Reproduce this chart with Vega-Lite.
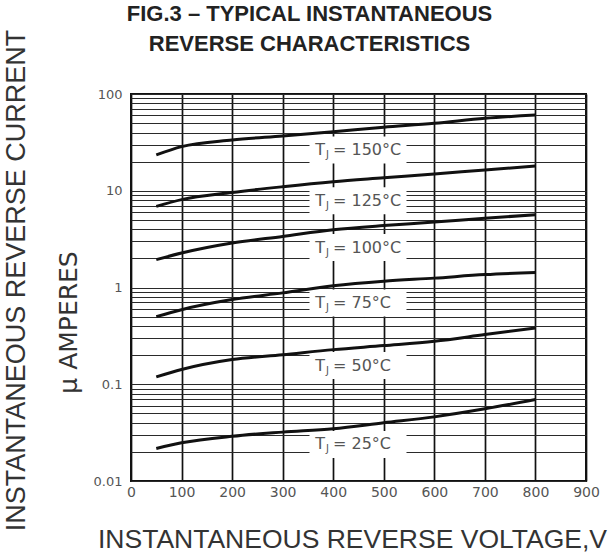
{
  "$schema": "https://vega.github.io/schema/vega-lite/v6.json",
  "width": 455,
  "height": 387,
  "autosize": {"type": "none"},
  "padding": {"left": 131, "top": 94, "right": 28, "bottom": 76},
  "background": "white",
  "config": {"view": {"stroke": "#111", "strokeWidth": 2}, "font": "Liberation Sans"},
  "datasets": {
    "curves": [
      {"t": "150", "v": 50, "i": 23.5}, {"t": "150", "v": 100, "i": 28.6}, {"t": "150", "v": 200, "i": 33.5}, {"t": "150", "v": 300, "i": 36.9}, {"t": "150", "v": 400, "i": 40.8}, {"t": "150", "v": 500, "i": 45.3}, {"t": "150", "v": 600, "i": 49.8}, {"t": "150", "v": 700, "i": 56.1}, {"t": "150", "v": 800, "i": 60.7},
      {"t": "125", "v": 50, "i": 6.9}, {"t": "125", "v": 100, "i": 8.1}, {"t": "125", "v": 200, "i": 9.6}, {"t": "125", "v": 300, "i": 11.0}, {"t": "125", "v": 400, "i": 12.4}, {"t": "125", "v": 500, "i": 13.6}, {"t": "125", "v": 600, "i": 14.9}, {"t": "125", "v": 700, "i": 16.4}, {"t": "125", "v": 800, "i": 18.0},
      {"t": "100", "v": 50, "i": 1.94}, {"t": "100", "v": 100, "i": 2.27}, {"t": "100", "v": 200, "i": 2.88}, {"t": "100", "v": 300, "i": 3.37}, {"t": "100", "v": 400, "i": 3.95}, {"t": "100", "v": 500, "i": 4.37}, {"t": "100", "v": 600, "i": 4.74}, {"t": "100", "v": 700, "i": 5.21}, {"t": "100", "v": 800, "i": 5.64},
      {"t": "75", "v": 50, "i": 0.5}, {"t": "75", "v": 100, "i": 0.59}, {"t": "75", "v": 200, "i": 0.75}, {"t": "75", "v": 300, "i": 0.88}, {"t": "75", "v": 400, "i": 1.04}, {"t": "75", "v": 500, "i": 1.16}, {"t": "75", "v": 600, "i": 1.25}, {"t": "75", "v": 700, "i": 1.36}, {"t": "75", "v": 800, "i": 1.43},
      {"t": "50", "v": 50, "i": 0.119}, {"t": "50", "v": 100, "i": 0.142}, {"t": "50", "v": 200, "i": 0.18}, {"t": "50", "v": 300, "i": 0.202}, {"t": "50", "v": 400, "i": 0.228}, {"t": "50", "v": 500, "i": 0.251}, {"t": "50", "v": 600, "i": 0.278}, {"t": "50", "v": 700, "i": 0.326}, {"t": "50", "v": 800, "i": 0.382},
      {"t": "25", "v": 50, "i": 0.0217}, {"t": "25", "v": 100, "i": 0.0248}, {"t": "25", "v": 200, "i": 0.029}, {"t": "25", "v": 300, "i": 0.032}, {"t": "25", "v": 400, "i": 0.0347}, {"t": "25", "v": 500, "i": 0.04}, {"t": "25", "v": 600, "i": 0.046}, {"t": "25", "v": 700, "i": 0.0557}, {"t": "25", "v": 800, "i": 0.0695}
    ],
    "labels": [
      {"t": "150", "v": 449, "i": 26.4, "s": "= 150°C"},
      {"t": "125", "v": 449, "i": 7.87, "s": "= 125°C"},
      {"t": "100", "v": 449, "i": 2.59, "s": "= 100°C"},
      {"t": "75", "v": 449, "i": 0.69, "s": "= 75°C"},
      {"t": "50", "v": 449, "i": 0.156, "s": "= 50°C"},
      {"t": "25", "v": 449, "i": 0.0239, "s": "= 25°C"}
    ]
  },
  "resolve": {"axis": {"x": "independent", "y": "independent"}},
  "layer": [
    {
      "data": {"name": "labels"},
      "mark": {"type": "rect", "color": "white", "width": 97, "height": 27},
      "encoding": {
        "x": {
          "field": "v", "type": "quantitative",
          "scale": {"domain": [0, 900], "nice": false, "zero": false},
          "axis": {
            "values": [0, 100, 200, 300, 400, 500, 600, 700, 800, 900],
            "grid": true, "gridColor": "#111", "gridWidth": 1.7,
            "ticks": false, "domain": false,
            "labelPadding": 4, "labelFontSize": 14, "labelColor": "#555", "labelFont": "DejaVu Sans",
            "labelFlush": false, "labelOverlap": false,
            "title": "INSTANTANEOUS REVERSE VOLTAGE,V",
            "titleFont": "Liberation Sans", "titleFontSize": 26.5, "titleFontWeight": "normal", "titleColor": "#333",
            "titleX": 221, "titleY": 58, "titleBaseline": "middle", "titleAlign": "center"
          }
        },
        "y": {
          "field": "i", "type": "quantitative",
          "scale": {"type": "log", "domain": [0.01, 100], "nice": false},
          "axis": {
            "values": [0.01, 0.02, 0.03, 0.04, 0.05, 0.06, 0.07, 0.08, 0.09, 0.1, 0.2, 0.3, 0.4, 0.5, 0.6, 0.7, 0.8, 0.9, 1, 2, 3, 4, 5, 6, 7, 8, 9, 10, 20, 30, 40, 50, 60, 70, 80, 90, 100],
            "labelExpr": "indexof([0.01, 0.1, 1, 10, 100], datum.value) >= 0 ? format(datum.value, '~g') : ''",
            "grid": true, "gridColor": "#2a2a2a", "gridWidth": 1.2,
            "ticks": false, "domain": false,
            "labelPadding": 9, "labelFontSize": 13, "labelColor": "#555", "labelFont": "DejaVu Sans",
            "labelFlush": false, "labelOverlap": false,
            "title": "μ AMPERES",
            "titleFont": "DejaVu Sans", "titleFontSize": 25, "titleFontWeight": "normal", "titleColor": "#333",
            "titleX": -63, "titleY": 228, "titleBaseline": "middle", "titleAlign": "center", "titleAngle": -90
          }
        }
      }
    },
    {
      "data": {"name": "curves"},
      "mark": {"type": "line", "color": "#111", "strokeWidth": 3, "interpolate": "monotone"},
      "encoding": {
        "x": {
          "field": "v", "type": "quantitative",
          "axis": {
            "orient": "top",
            "labels": false, "ticks": false, "domain": false, "grid": false,
            "title": ["FIG.3 – TYPICAL INSTANTANEOUS", "REVERSE CHARACTERISTICS"],
            "titleFont": "Liberation Sans", "titleFontSize": 22, "titleFontWeight": "bold", "titleColor": "#222",
            "titleLineHeight": 30,
            "titleX": 178, "titleY": -81, "titleBaseline": "middle", "titleAlign": "center"
          }
        },
        "y": {
          "field": "i", "type": "quantitative",
          "axis": {
            "orient": "left",
            "labels": false, "ticks": false, "domain": false, "grid": false,
            "title": "INSTANTANEOUS REVERSE CURRENT",
            "titleFont": "Liberation Sans", "titleFontSize": 27, "titleFontWeight": "normal", "titleColor": "#333",
            "titleX": -115, "titleY": 186, "titleBaseline": "middle", "titleAlign": "center", "titleAngle": -90
          }
        },
        "detail": {"field": "t"}
      }
    },
    {
      "data": {"name": "labels"},
      "mark": {"type": "text", "text": "T", "align": "right", "baseline": "middle", "dx": -33, "fontSize": 16, "color": "#555", "font": "DejaVu Sans"},
      "encoding": {
        "x": {"field": "v", "type": "quantitative", "axis": null},
        "y": {"field": "i", "type": "quantitative", "axis": null}
      }
    },
    {
      "data": {"name": "labels"},
      "mark": {"type": "text", "text": "J", "align": "left", "baseline": "middle", "dx": -32, "dy": 5, "fontSize": 10, "color": "#555", "font": "DejaVu Sans"},
      "encoding": {
        "x": {"field": "v", "type": "quantitative", "axis": null},
        "y": {"field": "i", "type": "quantitative", "axis": null}
      }
    },
    {
      "data": {"name": "labels"},
      "mark": {"type": "text", "align": "left", "baseline": "middle", "dx": -25, "fontSize": 16, "color": "#555", "font": "DejaVu Sans"},
      "encoding": {
        "x": {"field": "v", "type": "quantitative", "axis": null},
        "y": {"field": "i", "type": "quantitative", "axis": null},
        "text": {"field": "s"}
      }
    }
  ]
}
